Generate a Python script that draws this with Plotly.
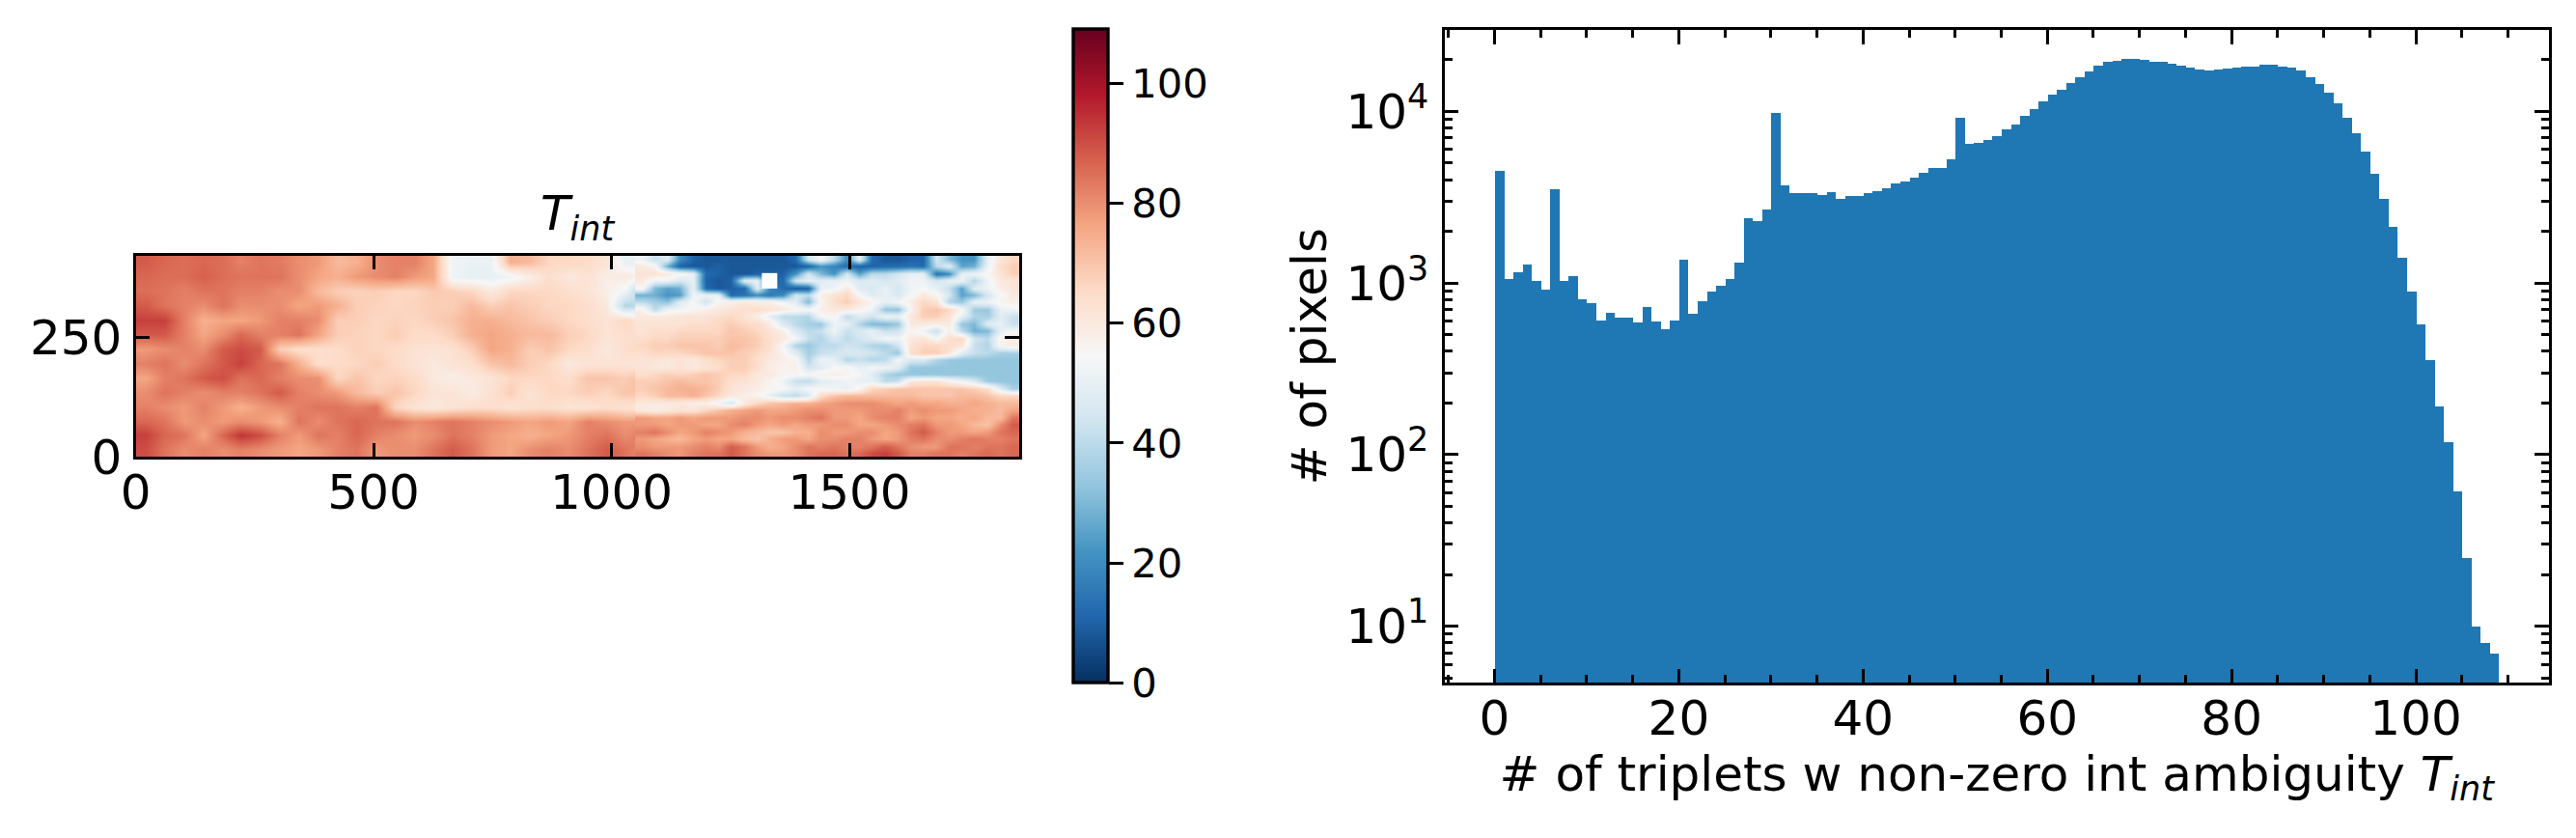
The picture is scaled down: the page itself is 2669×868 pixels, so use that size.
import plotly.graph_objects as go

W, H = 2669, 868
PAGE_MARGIN = 8  # the browser's default body margin
FW, FH = W - 2 * PAGE_MARGIN, H - 2 * PAGE_MARGIN


def fx(px):
    return (px - PAGE_MARGIN) / FW


def fy(py):
    return (H - PAGE_MARGIN - py) / FH


# ---------- histogram: pixel counts per integer bin ----------
hist_bins = list(range(109))
hist_counts = [
    4498, 1053, 1153, 1279, 1026, 914, 3516, 1026, 1095, 802,
    762, 603, 669, 627, 635, 588, 723, 596, 537, 603,
    1365, 661, 782, 890, 962, 1053, 1313, 2384, 2291, 2679,
    9786, 3703, 3338, 3338, 3338, 3251, 3381, 3088, 3211, 3211,
    3338, 3425, 3562, 3799, 3899, 4108, 4383, 4673, 4673, 5254,
    9172, 6464, 6549, 6806, 7171, 7851, 8380, 9417, 10304, 11429,
    12520, 13353, 14622, 15812, 17090, 18470, 19454, 19707, 20221, 20221,
    19953, 19454, 19454, 18956, 18470, 17989, 17539, 17298, 17539, 17765,
    17989, 18230, 18230, 18707, 18707, 18230, 17989, 17298, 15812, 14437,
    12845, 11143, 9172, 7453, 5829, 4325, 3088, 2121, 1400, 890,
    573, 359, 192, 119, 61, 25, 10, 8, 7,
]
y_tick_vals_hist = [10, 100, 1000, 10000]
y_tick_text_hist = ["10<sup>1</sup>", "10<sup>2</sup>", "10<sup>3</sup>", "10<sup>4</sup>"]

# ---------- map: T_int estimated on a coarse grid, rows listed top to bottom ----------
map_rows_top_down = [
    [88,86,85,86,85,82,84,83,80,78,72,74,80,82,82,76,52,51,51,74,72,66,66,65,62,50,52,30,8,8,8,8,8,10,35,25,12,12,12,12,15,45,28,45,62,68],
    [86,85,85,87,85,84,84,84,80,76,74,78,80,82,78,76,52,50,50,52,58,64,60,62,58,60,55,45,50,10,8,15,10,12,48,30,45,50,45,40,28,20,50,42,58,66],
    [85,84,82,84,84,82,82,80,80,72,68,67,68,66,66,69,68,66,60,66,66,66,64,62,58,52,32,25,30,12,10,20,12,18,14,50,56,52,50,40,50,52,35,32,48,55],
    [88,84,82,80,84,80,80,80,76,78,74,68,67,66,67,68,68,72,68,70,68,66,66,64,60,38,42,42,52,50,58,60,62,62,58,60,60,48,30,32,62,68,50,50,50,56],
    [92,92,82,74,76,76,78,82,82,80,68,68,66,67,66,68,70,74,74,72,70,68,66,64,62,66,60,62,60,64,66,64,45,42,36,35,48,36,32,36,62,62,55,30,50,44],
    [88,88,82,76,80,86,82,82,84,76,68,67,66,68,65,65,68,74,76,74,72,72,68,66,62,64,64,66,66,70,70,70,68,66,48,40,48,44,52,54,62,50,62,30,32,58],
    [78,80,82,80,88,90,88,68,64,64,65,67,66,65,63,62,63,68,76,74,68,70,66,64,60,64,66,66,70,72,68,68,66,55,36,36,44,46,36,32,62,64,66,60,52,60],
    [82,84,80,84,88,92,86,84,74,64,65,66,68,65,62,60,62,64,70,72,68,66,60,62,62,62,60,62,60,64,66,68,66,60,52,38,42,40,46,52,50,42,34,32,32,34],
    [76,82,84,88,90,84,86,82,80,80,66,70,66,67,65,60,58,60,62,66,66,66,64,70,70,68,72,68,72,70,70,64,66,60,40,52,50,48,32,30,32,32,32,30,30,30],
    [80,84,82,80,82,82,84,88,82,80,78,72,68,70,66,62,62,59,63,68,62,66,66,68,66,70,70,68,70,72,66,62,54,46,40,38,42,40,56,62,64,64,66,68,50,40],
    [82,80,78,82,78,74,78,80,82,84,84,82,84,66,62,60,62,64,64,62,64,64,62,62,64,62,62,64,62,58,56,74,74,76,76,76,76,76,76,76,72,72,72,72,74,72],
    [86,84,78,80,78,80,78,74,84,80,84,86,84,84,80,82,84,82,80,78,76,78,76,82,80,78,78,78,76,76,78,80,80,78,80,82,80,78,80,78,80,78,76,74,74,80],
    [92,86,84,76,86,94,90,82,78,84,82,86,82,80,78,80,84,82,78,76,74,76,78,82,84,80,84,80,76,80,78,74,72,74,78,78,80,80,76,78,84,84,78,76,78,86],
    [90,84,80,82,80,82,80,78,76,78,82,84,78,80,80,84,88,84,78,76,80,82,80,84,88,84,80,78,76,80,82,84,78,76,78,80,84,82,86,88,84,80,82,84,84,84],
]
map_cell_w = 40.37
map_cell_h = 30.07
map_x = [map_cell_w * (i + 0.5) for i in range(46)]
map_y = [map_cell_h * (j + 0.5) for j in range(14)]
map_z = map_rows_top_down[::-1]

# ---------- finer reading of the detailed right part of the map (x >= 1050) ----------
detail_rows_top_down = [
    [52,42,48,20,10,8,8,8,8,8,8,8,12,45,55,40,20,50,12,8,8,10,10,45,30,22,22,50,62,66],
    [60,56,28,10,8,8,10,8,8,8,8,8,8,10,22,18,12,10,10,12,12,14,12,40,48,25,28,52,64,68],
    [62,62,60,56,50,12,10,8,8,10,10,10,22,45,30,22,45,25,40,40,45,50,50,14,20,50,52,55,62,68],
    [60,52,52,45,50,10,8,10,48,50,10,12,45,50,48,50,52,46,48,45,48,52,52,45,50,52,38,52,60,62],
    [55,30,25,28,50,12,8,10,12,48,20,12,8,10,50,52,60,48,46,50,45,52,54,50,42,25,48,52,58,62],
    [28,28,22,24,52,52,50,12,14,20,15,20,45,40,58,62,66,55,48,50,46,54,60,56,45,25,30,45,54,60],
    [40,36,32,48,54,44,56,58,60,58,58,52,48,30,56,64,68,62,56,50,54,58,66,62,38,34,50,52,56,58],
    [58,40,52,52,56,58,60,62,64,64,62,60,56,54,58,60,60,56,52,33,32,56,68,70,66,56,35,34,50,52],
    [60,60,60,62,62,62,64,66,62,58,50,40,40,38,54,56,40,48,44,52,50,60,68,68,62,50,38,36,48,42],
    [62,62,62,62,64,64,66,68,66,64,60,46,40,36,34,52,50,38,30,30,34,60,60,58,60,34,30,48,50,42],
    [62,64,64,66,66,66,66,70,68,66,62,58,46,40,42,52,42,46,50,42,44,56,52,42,58,40,28,30,50,54],
    [64,66,66,68,68,68,68,70,70,68,64,60,54,42,38,46,40,44,48,54,52,60,62,54,64,66,44,40,56,58],
    [66,68,68,70,70,70,68,72,70,68,64,54,38,34,40,40,44,42,38,36,44,62,66,66,64,62,42,38,56,60],
    [64,66,66,66,68,70,70,70,68,66,62,56,48,36,42,44,46,46,44,40,34,64,68,68,62,48,42,40,36,36],
    [62,62,60,62,60,64,66,68,68,64,60,58,56,38,52,50,38,42,38,40,54,46,46,38,34,33,33,33,33,33],
    [62,60,60,62,60,62,64,68,68,64,58,56,58,44,48,54,56,50,54,52,48,34,33,33,33,33,33,33,33,33],
    [64,66,68,66,68,70,68,66,66,60,60,56,56,54,58,58,56,54,48,38,34,33,33,33,33,33,33,33,33,33],
    [68,68,70,72,70,70,68,64,62,60,56,52,42,40,48,50,52,50,50,40,42,60,62,62,56,52,46,34,33,33],
    [68,70,72,74,74,72,68,62,60,58,56,54,50,54,54,52,50,56,66,68,70,70,70,70,70,70,68,64,48,36],
    [66,68,72,72,74,70,66,60,58,56,50,42,40,46,64,70,72,72,72,72,72,72,70,70,70,72,72,70,66,66],
    [60,60,60,60,58,58,52,46,60,66,70,72,74,74,76,78,80,80,80,78,76,78,76,76,74,74,76,74,72,72],
    [60,58,60,62,62,66,70,74,76,78,76,76,78,80,80,78,78,78,80,80,82,78,80,78,78,76,74,74,72,76],
    [78,76,76,78,76,78,78,78,80,80,78,80,80,82,84,78,78,76,80,82,82,76,78,76,76,74,76,72,72,84],
    [78,78,76,78,78,76,76,80,82,78,76,78,76,78,78,80,80,76,76,78,80,82,84,78,78,76,72,70,80,88],
    [82,84,80,76,78,82,80,78,74,72,70,70,74,74,80,78,78,80,80,76,78,84,88,82,78,78,76,78,84,86],
    [78,76,74,72,76,78,76,76,72,70,74,78,78,76,80,80,82,82,78,76,78,82,84,80,80,82,84,82,82,84],
    [80,78,78,78,80,82,80,88,84,78,74,76,80,84,82,84,82,82,84,88,84,80,78,78,84,84,82,84,84,86],
    [84,82,80,78,82,84,84,88,84,80,78,78,80,84,86,86,84,86,90,92,88,82,82,84,84,82,84,86,84,86],
]
detail_x0 = 1050
detail_dx = 26.9
detail_dy = 15.04
detail_x = [detail_x0 + detail_dx * (k + 0.5) for k in range(30)]
detail_y = [detail_dy * (r + 0.5) for r in range(28)]
detail_z = detail_rows_top_down[::-1]

# the small no-data patch
hole_x = [1316, 1348]
hole_y = [351, 384]
hole_z = [[1]]

x_ticks_map = [0, 500, 1000, 1500]
y_ticks_map = [0, 250]
cbar_ticks = [0, 20, 40, 60, 80, 100]
x_ticks_hist = [0, 20, 40, 60, 80, 100]

FONT = "DejaVu Sans"
BLUE = "#1f77b4"
LW = 3.4

fig = go.Figure()

fig.add_trace(go.Heatmap(
    x=map_x, y=map_y, z=map_z, zmin=0, zmax=109, zsmooth="best",
    colorscale="RdBu_r", xaxis="x", yaxis="y", hoverinfo="skip",
    colorbar=dict(
        x=fx(1111.7), xanchor="left", xpad=0, y=fy(707.4), yanchor="bottom", ypad=0,
        lenmode="fraction", len=677 / FH, thicknessmode="pixels", thickness=36,
        outlinecolor="black", outlinewidth=LW, ticks="outside", ticklen=14.6, tickwidth=LW,
        tickcolor="black", tickvals=cbar_ticks, tickprefix="\u2009",
        tickfont=dict(family=FONT, size=41.7, color="black"),
    ),
))
fig.add_trace(go.Heatmap(
    x=detail_x, y=detail_y, z=detail_z, zmin=0, zmax=109, zsmooth="best",
    colorscale="RdBu_r", showscale=False, xaxis="x", yaxis="y", hoverinfo="skip",
))
fig.add_trace(go.Heatmap(
    x=hole_x, y=hole_y, z=hole_z, colorscale=[[0, "white"], [1, "white"]], showscale=False,
    xaxis="x", yaxis="y", hoverinfo="skip",
))
fig.add_trace(go.Bar(
    x=[b + 0.5 for b in hist_bins], y=hist_counts, width=1.0, marker=dict(color=BLUE, line=dict(width=0)),
    xaxis="x2", yaxis="y2", hoverinfo="skip",
))

common = dict(
    showline=True, linecolor="black", linewidth=LW, mirror="ticks", ticks="inside",
    ticklen=14.6, tickwidth=LW, tickcolor="black", showgrid=False, zeroline=False,
    tickfont=dict(family=FONT, size=50, color="black"), layer="above traces",
)

fig.update_layout(
    width=FW, height=FH, autosize=False, margin=dict(l=0, r=0, t=0, b=0, autoexpand=False),
    paper_bgcolor="white", plot_bgcolor="white", showlegend=False, bargap=0,
    font=dict(family=FONT, color="black"),
    xaxis=dict(domain=[fx(140.6), fx(1056)], range=[0, 1857], tickvals=x_ticks_map, anchor="y",
               ticklabelstandoff=-10, **common),
    yaxis=dict(domain=[fy(473.3), fy(264.5)], range=[0, 421], tickvals=y_ticks_map, anchor="x",
               ticklabelstandoff=1, **common),
    xaxis2=dict(
        domain=[fx(1496.5), fx(2641)], range=[-5.45, 114.45], tickvals=x_ticks_hist, anchor="y2",
        minor=dict(dtick=5, tick0=0, ticks="inside", ticklen=8.3, tickwidth=2.5, tickcolor="black", showgrid=False),
        title=dict(text="# of triplets w non-zero int ambiguity <i>T</i><sub><i>int</i></sub>",
                   font=dict(family=FONT, size=50, color="black"), standoff=2),
        ticklabelstandoff=-10, **common,
    ),
    yaxis2=dict(
        domain=[fy(707.4), fy(30.7)], type="log", range=[0.67, 4.476],
        tickvals=y_tick_vals_hist, ticktext=y_tick_text_hist, anchor="x2",
        minor=dict(dtick="D1", ticks="inside", ticklen=8.3, tickwidth=2.5, tickcolor="black", showgrid=False),
        title=dict(text="# of pixels", font=dict(family=FONT, size=50, color="black"), standoff=4),
        ticklabelstandoff=3, **common,
    ),
    annotations=[dict(
        text="<i>T</i><sub><i>int</i></sub>", xref="paper", yref="paper",
        x=fx(598), y=fy(259), xanchor="center", yanchor="bottom", showarrow=False,
        font=dict(family=FONT, size=50, color="black"),
    )],
)

fig.write_html("out.html")
